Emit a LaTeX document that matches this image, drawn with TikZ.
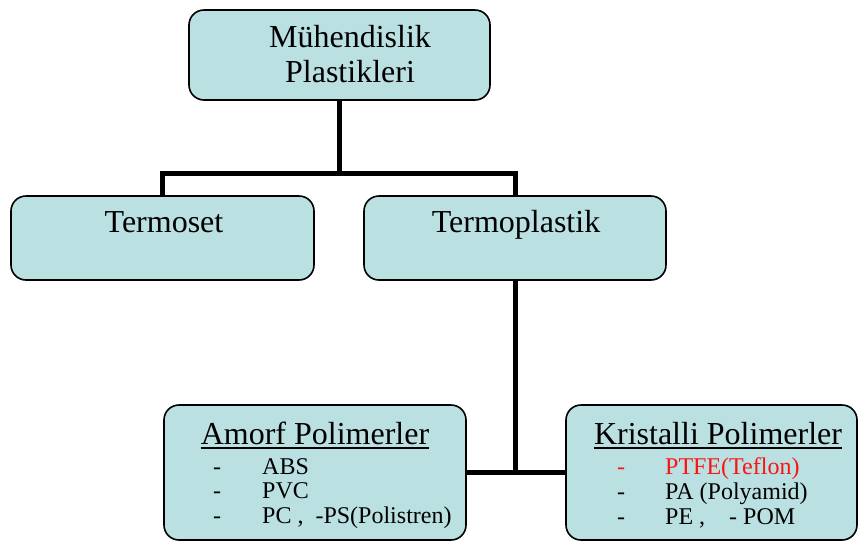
\documentclass[tikz,border=0pt]{standalone}
\usepackage{fontspec}
\setmainfont{Liberation Serif}
\definecolor{boxfill}{RGB}{186,224,226}
\definecolor{redtext}{RGB}{250,20,20}
\begin{document}
\begin{tikzpicture}[x=1pt,y=-1pt,
  box/.style={draw=black,line width=1.6pt,fill=boxfill,rounded corners=15pt,inner sep=0pt},
  big/.style={font=\fontsize{32}{36}\selectfont,inner sep=0pt,anchor=base},
  item/.style={font=\fontsize{24}{26}\selectfont,inner sep=0pt,anchor=base west},
  conn/.style={line width=5pt}]
\useasboundingbox (0,0) rectangle (859,542);
% boxes
\node[box,minimum width=301pt,minimum height=90pt] (top) at (339.5,55) {};
\node[box,minimum width=303pt,minimum height=84pt] (tset) at (162.5,238) {};
\node[box,minimum width=302pt,minimum height=84pt] (tplast) at (515,238) {};
\node[box,minimum width=302pt,minimum height=135pt] (amorf) at (315,472.5) {};
\node[box,minimum width=291pt,minimum height=135pt] (krist) at (711.5,472.5) {};
% connectors
\coordinate (j1) at (339.5,173);
\draw[conn] (top.south) -- (j1);
\draw[conn] (tset.north) |- (j1) -| (tplast.north);
\draw[conn] (tplast.south) -- (tplast.south |- amorf.east);
\draw[conn] (amorf.east) -- (krist.west);
% texts
\node[big] (ttop1) at (350,47) {Mühendislik};
\node[big] (ttop2) at (350,82) {Plastikleri};
\node[big] (ttset) at (164,232) {Termoset};
\node[big] (ttplast) at (516,232) {Termoplastik};
\node[big] (ham) at (315,444) {Amorf Polimerler};
\draw[line width=1.5pt] ([yshift=-4pt]ham.base west) -- ([yshift=-4pt]ham.base east);
\node[big] (hkr) at (718,444) {Kristalli Polimerler};
\draw[line width=1.5pt] ([yshift=-4pt]hkr.base west) -- ([yshift=-4pt]hkr.base east);
% amorf items
\node[item] (ad1) at (213,474) {-};
\node[item] (at1) at (262,474) {ABS};
\node[item] (ad2) at (213,498) {-};
\node[item] (at2) at (262,498) {PVC};
\node[item] (ad3) at (213,523) {-};
\node[item] (at3) at (262,523) {PC ,\ \ -PS(Polistren)};
% kristalli items
\node[item,text=redtext] (kd1) at (617,474) {-};
\node[item,text=redtext] (kt1) at (665,474) {PTFE(Teflon)};
\node[item] (kd2) at (617,499) {-};
\node[item] (kt2) at (665,499) {PA (Polyamid)};
\node[item] (kd3) at (617,524) {-};
\node[item] (kt3) at (665,524) {PE ,\ \ \ \ - POM};
\end{tikzpicture}
\end{document}
